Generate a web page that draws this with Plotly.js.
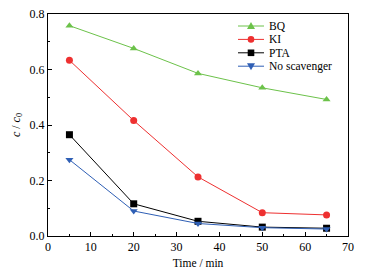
<!DOCTYPE html>
<html><head><meta charset="utf-8">
<script src="https://cdn.plot.ly/plotly-3.0.1.min.js"></script>
<style>html,body{margin:0;padding:0;background:#fff}#chart{width:369px;height:274px}</style>
</head><body><div id="chart"></div>
<script>
var time = [5, 20, 35, 50, 65];
var bq = [0.758, 0.676, 0.586, 0.534, 0.492];
var ki = [0.633, 0.416, 0.213, 0.084, 0.076];
var pta = [0.365, 0.116, 0.053, 0.032, 0.028];
var noScav = [0.275, 0.090, 0.045, 0.030, 0.025];
var names = ['BQ', 'KI', 'PTA', 'No scavenger'];
var colors = ['#6cc24a', '#ee3030', '#000000', '#2f5fb5'];
var symbols = ['triangle-up', 'circle', 'square', 'triangle-down'];
var series = [bq, ki, pta, noScav];
var traces = series.map(function(s, i){
  return {x: time, y: s, name: names[i], type: 'scatter', mode: 'lines+markers', showlegend: false,
    line: {color: colors[i], width: 1}, marker: {symbol: symbols[i], size: 7, color: colors[i]}};
});
var FAM = "'Liberation Serif', 'Times New Roman', serif";
var font = {family: FAM, size: 12, color: '#000'};

// hand-built compact legend (layout only)
var W = 300, H = 222, L = 48, T = 14;
function px(x){ return (x - L) / W; }
function py(y){ return (T + H - y) / H; }
var shapes = [], annotations = [];
var legX0 = 238, legX1 = 264, legText = 267, legY0 = 26, legDy = 13.4;
var paths = {
  'triangle-up': 'M-4,-3L4,-3L0,4Z',
  'triangle-down': 'M-4,3L4,3L0,-4Z'
};
names.forEach(function(n, i){
  var y = legY0 + i * legDy;
  shapes.push({type: 'line', xref: 'paper', yref: 'paper', x0: px(legX0), x1: px(legX1), y0: py(y), y1: py(y),
    line: {color: colors[i], width: 1}});
  var xm = px((legX0 + legX1) / 2), ym = py(y);
  var s = symbols[i];
  if (s === 'circle' || s === 'square') {
    shapes.push({type: s === 'circle' ? 'circle' : 'rect', xref: 'paper', yref: 'paper',
      xsizemode: 'pixel', ysizemode: 'pixel', xanchor: xm, yanchor: ym,
      x0: -3.3, x1: 3.3, y0: -3.3, y1: 3.3, fillcolor: colors[i], line: {width: 0}});
  } else {
    shapes.push({type: 'path', xref: 'paper', yref: 'paper',
      xsizemode: 'pixel', ysizemode: 'pixel', xanchor: xm, yanchor: ym,
      path: paths[s], fillcolor: colors[i], line: {width: 0}});
  }
  annotations.push({text: n, xref: 'paper', yref: 'paper', x: px(legText), y: ym, xanchor: 'left', yanchor: 'middle',
    showarrow: false, font: {family: FAM, size: 11.5, color: '#000'}});
});

var layout = {
  width: 369, height: 274,
  margin: {l: 48, r: 21, t: 14, b: 38},
  font: font,
  paper_bgcolor: '#fff', plot_bgcolor: '#fff',
  showlegend: false,
  shapes: shapes, annotations: annotations,
  xaxis: {range: [0, 70], dtick: 10, ticks: 'inside', ticklen: 4, tickcolor: '#000',
    showline: true, linecolor: '#000', linewidth: 1, mirror: true, showgrid: false, zeroline: false,
    tickfont: {family: FAM, size: 12},
    minor: {ticks: 'inside', ticklen: 2, dtick: 5, tickcolor: '#000', showgrid: false},
    title: {text: 'Time / min', font: {family: FAM, size: 11.5}, standoff: 5}},
  yaxis: {range: [0, 0.8], dtick: 0.2, tickformat: '.1f', ticks: 'inside', ticklen: 4, tickcolor: '#000',
    showline: true, linecolor: '#000', linewidth: 1, mirror: true, showgrid: false, zeroline: false,
    tickfont: {family: FAM, size: 12},
    minor: {ticks: 'inside', ticklen: 2, dtick: 0.1, tickcolor: '#000', showgrid: false},
    title: {text: '<i>c</i> / <i>c</i><sub>0</sub>', font: {family: FAM, size: 12}, standoff: 6}}
};
Plotly.newPlot('chart', traces, layout, {displayModeBar: false, staticPlot: true});
</script></body></html>
